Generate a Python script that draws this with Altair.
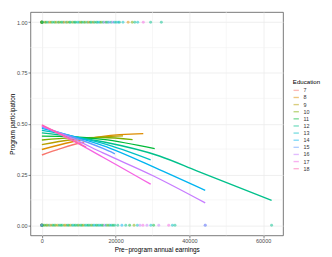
import altair as alt
import pandas as pd

# Education categories and ggplot hue colours
educ_levels = ["7", "8", "9", "10", "11", "12", "13", "14", "15", "16", "17", "18"]
palette = ["#F8766D", "#DE8C00", "#B79F00", "#7CAE00", "#00BA38", "#00C08B",
           "#00BFC4", "#00B4F0", "#619CFF", "#C77CFF", "#F564E3", "#FF64B0"]

# Fitted participation curves
curve_educ = ["7"] * 4 + ["8"] * 4 + ["9"] * 4 + ["10"] * 4 + ["11"] * 4 + ["12"] * 6 + \
             ["13"] * 4 + ["14"] * 5 + ["15"] * 4 + ["16"] * 5 + ["17"] * 4 + ["18"] * 3
curve_earn = [0, 5000, 10000, 11500,
              0, 8000, 16560, 27500,
              0, 8000, 16560, 22000,
              0, 8000, 16560, 24600,
              0, 8000, 16560, 30600,
              0, 8000, 16560, 31850, 42000, 62300,
              0, 8000, 16560, 29500,
              0, 8000, 16560, 31850, 44300,
              0, 8000, 16560, 19800,
              0, 8000, 16560, 30000, 44300,
              0, 8000, 16560, 29500,
              0, 6000, 12000]
curve_prob = [0.346, 0.377, 0.404, 0.410,
              0.373, 0.410, 0.438, 0.451,
              0.397, 0.421, 0.435, 0.440,
              0.420, 0.430, 0.432, 0.422,
              0.439, 0.436, 0.423, 0.377,
              0.455, 0.438, 0.411, 0.341, 0.268, 0.123,
              0.467, 0.440, 0.403, 0.322,
              0.477, 0.440, 0.392, 0.274, 0.172,
              0.483, 0.437, 0.378, 0.352,
              0.488, 0.430, 0.356, 0.245, 0.110,
              0.491, 0.420, 0.335, 0.202,
              0.494, 0.440, 0.385]

# Observations: participants (1) and non-participants (0)
treat_earn = [0, 0, 0, 0, 0, 0, 0, 0, 0, 0, 310, 820, 1150, 1640, 2080, 2510, 2930, 3460,
              3880, 4390, 4710, 5230, 5690, 6040, 6580, 6920, 7450, 7810, 8340, 8770,
              9120, 9630, 10070, 10480, 10850, 11390, 11720, 12260, 12640, 13110, 13520,
              13960, 14330, 14870, 15240, 15710, 16080, 16590, 16960, 17420, 17880, 18230,
              18760, 19190, 19640, 20120, 20680, 21050, 22000, 23400, 24500, 25200, 26000,
              27500, 29500, 32400]
treat_educ = ["12", "11", "10", "9", "8", "12", "7", "13", "11", "10", "12", "9", "11", "12",
              "8", "10", "12", "11", "9", "12", "10", "11", "12", "8", "12", "9", "11", "12",
              "10", "12", "11", "13", "12", "9", "11", "12", "10", "12", "8", "11", "12",
              "9", "12", "11", "14", "12", "10", "12", "16", "11", "12", "15", "12", "16",
              "13", "12", "14", "12", "13", "8", "10", "12", "13", "17", "12", "12"]
ctrl_earn = [0, 0, 0, 0, 0, 0, 0, 0, 0, 0, 0, 420, 760, 1230, 1590, 2040, 2470, 2960, 3380,
             3750, 4260, 4680, 5140, 5510, 6030, 6470, 6890, 7310, 7780, 8240, 8650, 9080,
             9570, 9940, 10420, 10860, 11270, 11730, 12180, 12590, 13040, 13480, 13910,
             14370, 14820, 15260, 15690, 16110, 16540, 17010, 17460, 17930, 18380, 18840,
             19290, 19760, 20600, 21700, 22750, 23800, 25000, 25900, 26600, 27400, 28500,
             29550, 30300, 31700, 34400, 35400, 36100, 44300, 44300, 62300]
ctrl_educ = ["12", "10", "11", "9", "8", "12", "7", "13", "14", "11", "16", "12", "10", "11",
             "9", "12", "8", "11", "12", "10", "9", "12", "11", "12", "10", "8", "12", "11",
             "9", "12", "13", "11", "12", "10", "12", "11", "9", "12", "13", "11", "12",
             "10", "12", "14", "11", "12", "13", "12", "11", "16", "12", "10", "12", "13",
             "11", "12", "12", "14", "12", "11", "10", "13", "16", "17", "16", "13", "11",
             "16", "17", "13", "12", "14", "16", "12"]

points = pd.DataFrame({
    "earn": treat_earn + ctrl_earn,
    "part": [1.0] * len(treat_earn) + [0.0] * len(ctrl_earn),
    "educ": treat_educ + ctrl_educ,
})
curves = pd.DataFrame({"earn": curve_earn, "prob": curve_prob, "educ": curve_educ})

font = "Liberation Sans"
xtitle = "Pre\u2212program annual earnings"
ytitle = "Program participation"
xscale = alt.Scale(domain=[-3100, 65400], nice=False, zero=False)
yscale = alt.Scale(domain=[-0.05, 1.05], nice=False, zero=False)
xaxis = alt.Axis(values=[0, 20000, 40000, 60000], format="d", titlePadding=2)
yaxis = alt.Axis(values=[0, 0.25, 0.5, 0.75, 1.0], format=".2f", titlePadding=1)
legend = alt.Legend(title="Education", orient="none", legendX=269, legendY=69,
                    symbolType="stroke", symbolStrokeWidth=1.4, symbolSize=30,
                    labelFontSize=5.5, titleFontSize=6.3, titleFontWeight="normal",
                    titleColor="#000000", labelColor="#333333", rowPadding=0.3,
                    titlePadding=1.5, labelOffset=4, labelFont=font, titleFont=font,
                    titleLimit=60)
cscale = alt.Scale(domain=educ_levels, range=palette)

# minor grid lines (half-way between major ticks)
minor_x = pd.DataFrame({"mx": [10000, 30000, 50000]})
minor_y = pd.DataFrame({"my": [0.125, 0.375, 0.625, 0.875]})
gx = alt.Chart(minor_x).mark_rule(color="#F2F2F2", strokeWidth=0.6).encode(
    x=alt.X("mx:Q", scale=xscale, axis=xaxis, title=xtitle))
gy = alt.Chart(minor_y).mark_rule(color="#F2F2F2", strokeWidth=0.6).encode(
    y=alt.Y("my:Q", scale=yscale, axis=yaxis, title=ytitle))

pts = alt.Chart(points).mark_circle(size=9, opacity=0.5).encode(
    x=alt.X("earn:Q", scale=xscale, axis=xaxis, title=xtitle),
    y=alt.Y("part:Q", scale=yscale, axis=yaxis, title=ytitle),
    color=alt.Color("educ:N", scale=cscale, legend=legend),
)
lines = alt.Chart(curves).mark_line(strokeWidth=1.4, interpolate="monotone").encode(
    x=alt.X("earn:Q", scale=xscale, axis=xaxis, title=xtitle),
    y=alt.Y("prob:Q", scale=yscale, axis=yaxis, title=ytitle),
    color=alt.Color("educ:N", scale=cscale, legend=legend),
    detail="educ:N",
)

chart = alt.layer(gx, gy, pts, lines).properties(
    width=259, height=229,
    autosize=alt.AutoSizeParams(type="none"),
    padding={"left": 23, "top": 1, "right": 42, "bottom": 19},
).configure_view(
    stroke="#555555", strokeWidth=0.8
).configure_axis(
    grid=True, gridColor="#EBEBEB", gridWidth=0.8, domain=False,
    tickColor="#333333", tickSize=2.5, tickWidth=0.6,
    labelFontSize=5.6, labelColor="#4D4D4D", labelFont=font, labelPadding=1,
    titleFontSize=6.6, titleFont=font, titleFontWeight="normal", titleColor="#000000",
)

chart.save("out.html", embed_options={"renderer": "svg", "actions": False})
